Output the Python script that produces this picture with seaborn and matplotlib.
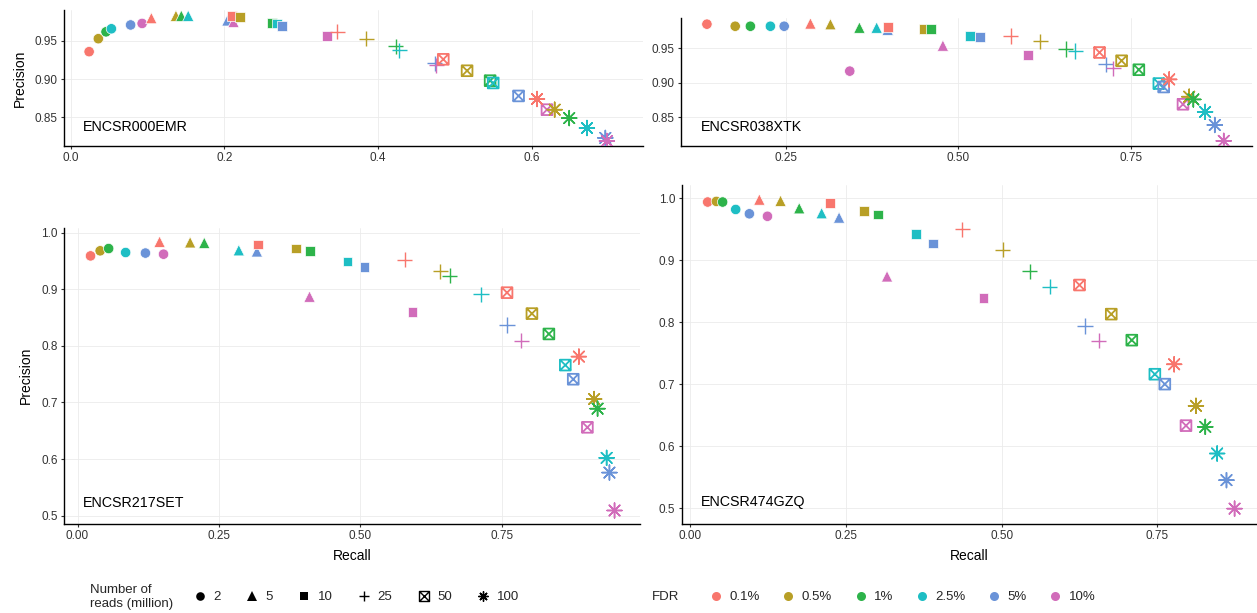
import numpy as np
import pandas as pd
import matplotlib
matplotlib.use("Agg")
import matplotlib.pyplot as plt
import seaborn as sns
from matplotlib.path import Path
from matplotlib.markers import MarkerStyle
from matplotlib.lines import Line2D

# ---------------- data ----------------
fdr_levels = ["0.1%", "0.5%", "1%", "2.5%", "5%", "10%"]
reads_levels = ["2", "5", "10", "25", "50", "100"]
fdr_colors = ["#F8766D", "#B89F26", "#2DB34A", "#1EBEC4", "#6A93D8", "#D16CBA"]
experiments = ["ENCSR000EMR", "ENCSR038XTK", "ENCSR217SET", "ENCSR474GZQ"]

# values ordered: reads 2,5,10,25,50,100 ; within each, FDR 0.1%..10%
emr_recall = [0.024, 0.036, 0.046, 0.053, 0.078, 0.093,
              0.105, 0.137, 0.144, 0.153, 0.204, 0.212,
              0.210, 0.220, 0.262, 0.269, 0.275, 0.334,
              0.347, 0.385, 0.423, 0.428, 0.474, 0.476,
              0.485, 0.516, 0.546, 0.550, 0.583, 0.620,
              0.607, 0.630, 0.649, 0.672, 0.696, 0.698]
emr_precision = [0.936, 0.953, 0.962, 0.966, 0.971, 0.973,
                 0.980, 0.983, 0.983, 0.983, 0.977, 0.975,
                 0.983, 0.981, 0.974, 0.973, 0.970, 0.957,
                 0.962, 0.953, 0.943, 0.938, 0.921, 0.918,
                 0.926, 0.911, 0.898, 0.895, 0.878, 0.860,
                 0.874, 0.860, 0.849, 0.836, 0.823, 0.819]

xtk_recall = [0.136, 0.177, 0.199, 0.228, 0.248, 0.343,
              0.286, 0.315, 0.357, 0.382, 0.398, 0.478,
              0.398, 0.450, 0.461, 0.517, 0.532, 0.601,
              0.576, 0.619, 0.656, 0.670, 0.714, 0.725,
              0.705, 0.737, 0.762, 0.791, 0.798, 0.826,
              0.806, 0.835, 0.841, 0.858, 0.872, 0.885]
xtk_precision = [0.985, 0.982, 0.982, 0.982, 0.982, 0.917,
                 0.986, 0.985, 0.980, 0.980, 0.977, 0.954,
                 0.981, 0.978, 0.978, 0.968, 0.966, 0.940,
                 0.968, 0.960, 0.949, 0.946, 0.927, 0.921,
                 0.944, 0.932, 0.919, 0.899, 0.894, 0.869,
                 0.905, 0.880, 0.876, 0.858, 0.839, 0.816]

set_recall = [0.023, 0.040, 0.055, 0.085, 0.120, 0.152,
              0.145, 0.199, 0.224, 0.285, 0.317, 0.410,
              0.319, 0.386, 0.411, 0.477, 0.507, 0.592,
              0.578, 0.641, 0.658, 0.713, 0.759, 0.784,
              0.759, 0.803, 0.833, 0.862, 0.876, 0.901,
              0.886, 0.913, 0.919, 0.935, 0.940, 0.949]
set_precision = [0.959, 0.968, 0.972, 0.965, 0.964, 0.962,
                 0.984, 0.983, 0.982, 0.969, 0.967, 0.887,
                 0.979, 0.972, 0.968, 0.949, 0.939, 0.860,
                 0.952, 0.932, 0.924, 0.891, 0.837, 0.809,
                 0.894, 0.857, 0.821, 0.766, 0.741, 0.656,
                 0.781, 0.706, 0.689, 0.602, 0.576, 0.509]

gzq_recall = [0.028, 0.042, 0.052, 0.073, 0.095, 0.124,
              0.111, 0.145, 0.175, 0.211, 0.239, 0.316,
              0.225, 0.279, 0.302, 0.363, 0.390, 0.471,
              0.437, 0.502, 0.545, 0.577, 0.634, 0.656,
              0.625, 0.676, 0.709, 0.746, 0.762, 0.796,
              0.777, 0.812, 0.827, 0.846, 0.861, 0.874]
gzq_precision = [0.994, 0.995, 0.994, 0.982, 0.975, 0.971,
                 0.998, 0.996, 0.984, 0.976, 0.969, 0.874,
                 0.992, 0.980, 0.974, 0.942, 0.927, 0.839,
                 0.950, 0.917, 0.882, 0.857, 0.794, 0.770,
                 0.860, 0.813, 0.771, 0.716, 0.700, 0.633,
                 0.732, 0.665, 0.631, 0.588, 0.545, 0.499]

top_y_ticks = [0.85, 0.90, 0.95]
top_y_labels = ["0.85", "0.90", "0.95"]
emr_x_ticks = [0.0, 0.2, 0.4, 0.6]
emr_x_labels = ["0.0", "0.2", "0.4", "0.6"]
xtk_x_ticks = [0.25, 0.50, 0.75]
xtk_x_labels = ["0.25", "0.50", "0.75"]
bot_x_ticks = [0.0, 0.25, 0.50, 0.75]
bot_x_labels = ["0.00", "0.25", "0.50", "0.75"]
bot_y_ticks = [0.5, 0.6, 0.7, 0.8, 0.9, 1.0]
bot_y_labels = ["0.5", "0.6", "0.7", "0.8", "0.9", "1.0"]

recalls = [emr_recall, xtk_recall, set_recall, gzq_recall]
precisions = [emr_precision, xtk_precision, set_precision, gzq_precision]

rows = []
for exp, rec, prec in zip(experiments, recalls, precisions):
    for i, (r, p) in enumerate(zip(rec, prec)):
        rows.append(dict(experiment=exp, reads=reads_levels[i // 6],
                         FDR=fdr_levels[i % 6], Recall=r, Precision=p))
df = pd.DataFrame(rows)

# ---------------- style ----------------
sns.set_style("white")
plt.rcParams["font.family"] = ["Liberation Sans", "DejaVu Sans"]

W, H = 1257, 613
fig = plt.figure(figsize=(W / 100, H / 100), dpi=100)


def rect(l, t, r, b):
    return [l / W, 1 - b / H, (r - l) / W, (b - t) / H]


# box with cross (ggplot shape 7)
boxx_path = Path([(-1, -1), (1, -1), (1, 1), (-1, 1), (-1, -1),
                  (-1, -1), (1, 1), (-1, 1), (1, -1)],
                 [Path.MOVETO, Path.LINETO, Path.LINETO, Path.LINETO, Path.CLOSEPOLY,
                  Path.MOVETO, Path.LINETO, Path.MOVETO, Path.LINETO])
boxx = MarkerStyle(boxx_path, fillstyle="none")
aster = MarkerStyle((8, 2, 0))

shape_specs = {
    "2": dict(marker="o", s=56, lw=0.5, line=False),
    "5": dict(marker="^", s=66, lw=0.5, line=False),
    "10": dict(marker="s", s=50, lw=0.5, line=False),
    "25": dict(marker="+", s=120, lw=1.0, line=True),
    "50": dict(marker=boxx, s=60, lw=1.3, line="box"),
    "100": dict(marker=aster, s=115, lw=1.1, line=True),
}

panels = [
    dict(exp="ENCSR000EMR", rect=(64, 10, 643, 145.7), xlim=(-0.0087, 0.745), ylim=(0.8128, 0.9906),
         xt=emr_x_ticks, xl=emr_x_labels, yt=top_y_ticks, yl=top_y_labels, ylab=True, xlab=False,
         txt=(0.032, 0.138)),
    dict(exp="ENCSR038XTK", rect=(680.7, 18.3, 1252, 145.7), xlim=(0.098, 0.926), ylim=(0.809, 0.9935),
         xt=xtk_x_ticks, xl=xtk_x_labels, yt=top_y_ticks, yl=top_y_labels, ylab=False, xlab=False,
         txt=(0.035, 0.147)),
    dict(exp="ENCSR217SET", rect=(64, 228, 640, 523.5), xlim=(-0.0239, 0.994), ylim=(0.486, 1.0083),
         xt=bot_x_ticks, xl=bot_x_labels, yt=bot_y_ticks, yl=bot_y_labels, ylab=True, xlab=True,
         txt=(0.032, 0.069)),
    dict(exp="ENCSR474GZQ", rect=(681.5, 184.5, 1257, 523.5), xlim=(-0.014, 0.910), ylim=(0.475, 1.0223),
         xt=bot_x_ticks, xl=bot_x_labels, yt=bot_y_ticks, yl=bot_y_labels, ylab=False, xlab=True,
         txt=(0.033, 0.062)),
]

palette = dict(zip(fdr_levels, fdr_colors))

for pan in panels:
    ax = fig.add_axes(rect(*pan["rect"]))
    sub = df[df["experiment"] == pan["exp"]]
    for rd in reads_levels:
        spec = shape_specs[rd]
        d = sub[sub["reads"] == rd]
        kw = dict(data=d, x="Recall", y="Precision", hue="FDR", hue_order=fdr_levels,
                  palette=palette, marker=spec["marker"], s=spec["s"],
                  linewidth=spec["lw"], legend=False, ax=ax, zorder=3)
        if spec["line"] is False:
            kw["edgecolor"] = "white"
        sns.scatterplot(**kw)
        if spec["line"] == "box":
            coll = ax.collections[-1]
            fc = coll.get_facecolors()
            coll.set_edgecolors(fc)
            coll.set_facecolors("none")
    ax.set_xlim(*pan["xlim"])
    ax.set_ylim(*pan["ylim"])
    ax.set_xticks(pan["xt"])
    ax.set_xticklabels(pan["xl"])
    ax.set_yticks(pan["yt"])
    ax.set_yticklabels(pan["yl"])
    ax.grid(True, color="#EBEBEB", lw=0.6)
    ax.set_axisbelow(True)
    for sp in ["top", "right"]:
        ax.spines[sp].set_visible(False)
    for sp in ["left", "bottom"]:
        ax.spines[sp].set_color("black")
        ax.spines[sp].set_linewidth(1.0)
    ax.tick_params(axis="both", length=2.5, width=0.8, color="#333333", pad=2,
                   labelsize=8.5, labelcolor="#333333", bottom=True, left=True)
    ax.set_ylabel("Precision" if pan["ylab"] else "", fontsize=10, labelpad=6, color="black")
    ax.set_xlabel("Recall" if pan["xlab"] else "", fontsize=10, labelpad=5, color="black")
    ax.text(pan["txt"][0], pan["txt"][1], pan["exp"], transform=ax.transAxes,
            ha="left", va="center", fontsize=10.3, color="black")

# ---------------- legends ----------------
leg_y = (H - 597) / H
fs = 9.5
shape_handles = []
for rd in reads_levels:
    spec = shape_specs[rd]
    m = spec["marker"]
    ms = 6.2 if spec["line"] is False else 7.2
    if rd == "5":
        ms = 6.8
    shape_handles.append(Line2D([], [], marker=m, linestyle="none", color="black",
                                markersize=ms, markeredgewidth=1.0 if spec["line"] else 0))
leg1 = fig.legend(shape_handles, reads_levels, ncol=6, loc="center left",
                  bbox_to_anchor=(193.4 / W, leg_y), frameon=False, fontsize=fs,
                  handlelength=1.0, handletextpad=0.5, columnspacing=1.9,
                  borderpad=0, borderaxespad=0)
fig.text(90 / W, leg_y, "Number of\nreads (million)", ha="left", va="center",
         fontsize=fs, linespacing=1.25)

fdr_handles = [Line2D([], [], marker="o", linestyle="none", color=c, markersize=6.5,
                      markeredgewidth=0) for c in fdr_colors]
leg2 = fig.legend(fdr_handles, fdr_levels, ncol=6, loc="center left",
                  bbox_to_anchor=(709.4 / W, leg_y), frameon=False, fontsize=fs,
                  handlelength=1.0, handletextpad=0.5, columnspacing=1.68,
                  borderpad=0, borderaxespad=0)
fig.text(652 / W, leg_y, "FDR", ha="left", va="center", fontsize=fs)

fig.savefig("out.png", dpi=100)
